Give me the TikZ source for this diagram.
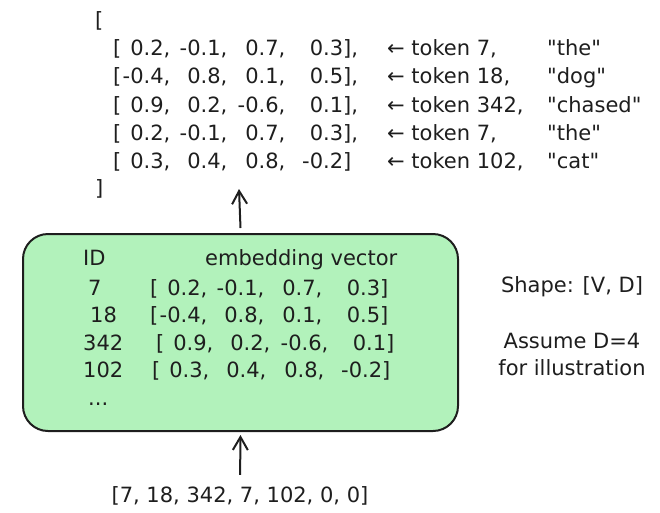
\documentclass[tikz,border=0pt]{standalone}
\usepackage{fontspec}
\setmainfont{DejaVu Sans}
\usepackage{xcolor}
\usepackage{tikz}
\usetikzlibrary{arrows.meta}
\definecolor{tinta}{HTML}{1E1E1E}
\definecolor{verde}{HTML}{B2F2BB}
\newcommand{\vecfila}[4]{[\makebox[49pt][r]{#1,}\makebox[57pt][r]{#2,}\makebox[58pt][r]{#3,}\makebox[66pt][r]{#4]}}

\begin{document}
\begin{tikzpicture}[x=1pt,y=-1pt,>={Straight Barb[length=13pt,width=15pt]},
    txt/.style={inner sep=0pt,anchor=base west,text=tinta,font=\fontsize{21}{25}\selectfont},
    flecha/.style={->,draw=tinta,line width=2pt}]
    \useasboundingbox (0,0) rectangle (660,512);
    \node[draw=tinta,line width=2pt,fill=verde,rounded corners=25pt,
        minimum width=435pt,minimum height=197pt,inner sep=0pt,anchor=north west] (tabla) at (22,233) {};
    \node[txt] (abre) at (95,27) {[};
    \node[txt] (fila1) at (113,55) {\vecfila{0.2}{-0.1}{0.7}{0.3},};
    \node[txt] (fila2) at (113,83) {\vecfila{-0.4}{0.8}{0.1}{0.5},};
    \node[txt] (fila3) at (113,112) {\vecfila{0.9}{0.2}{-0.6}{0.1},};
    \node[txt] (fila4) at (113,140) {\vecfila{0.2}{-0.1}{0.7}{0.3},};
    \node[txt] (fila5) at (113,168) {\vecfila{0.3}{0.4}{0.8}{-0.2}};
    \node[txt] (cierra) at (95,195) {]};
    \foreach \Y/\Tok/\Pal [count=\i] in {55/7/the,83/18/dog,112/342/chased,140/7/the,168/102/cat}
    {
        \node[txt] (tok\i) at (387,\Y) {← token \Tok,};
        \node[txt] (pal\i) at (547,\Y) {\textquotedbl\Pal\textquotedbl};
    }
    \node[txt] (cabid) at (83,265) {ID};
    \node[txt] (cabvec) at (205,265) {embedding vector};
    \foreach \Y/\Id/\Xid in {295/7/88,322/18/90,350/342/83,377/102/83}
    \node[txt] (id\Id) at (\Xid,\Y) {\Id};
    \node[txt] (v7) at (150,295) {\vecfila{0.2}{-0.1}{0.7}{0.3}};
    \node[txt] (v18) at (150,322) {\vecfila{-0.4}{0.8}{0.1}{0.5}};
    \node[txt] (v342) at (156,350) {\vecfila{0.9}{0.2}{-0.6}{0.1}};
    \node[txt] (v102) at (152,377) {\vecfila{0.3}{0.4}{0.8}{-0.2}};
    \node[txt] (puntos) at (88,405) {...};
    \node[txt,anchor=base] (forma) at (572,292) {Shape: [V, D]};
    \node[txt,anchor=base] (supone) at (572,348) {Assume D=4};
    \node[txt,anchor=base] (ilustra) at (572,375) {for illustration};
    \node[txt,anchor=base] (ids) at (240,502) {[7, 18, 342, 7, 102, 0, 0]};
    \coordinate (salida) at (239,189);
    \draw[flecha] ([yshift=5pt]tabla.north) -- (salida);
    \draw[flecha,shorten <=11pt,shorten >=3pt] (ids.north) -- (tabla.south);
\end{tikzpicture}
\end{document}
